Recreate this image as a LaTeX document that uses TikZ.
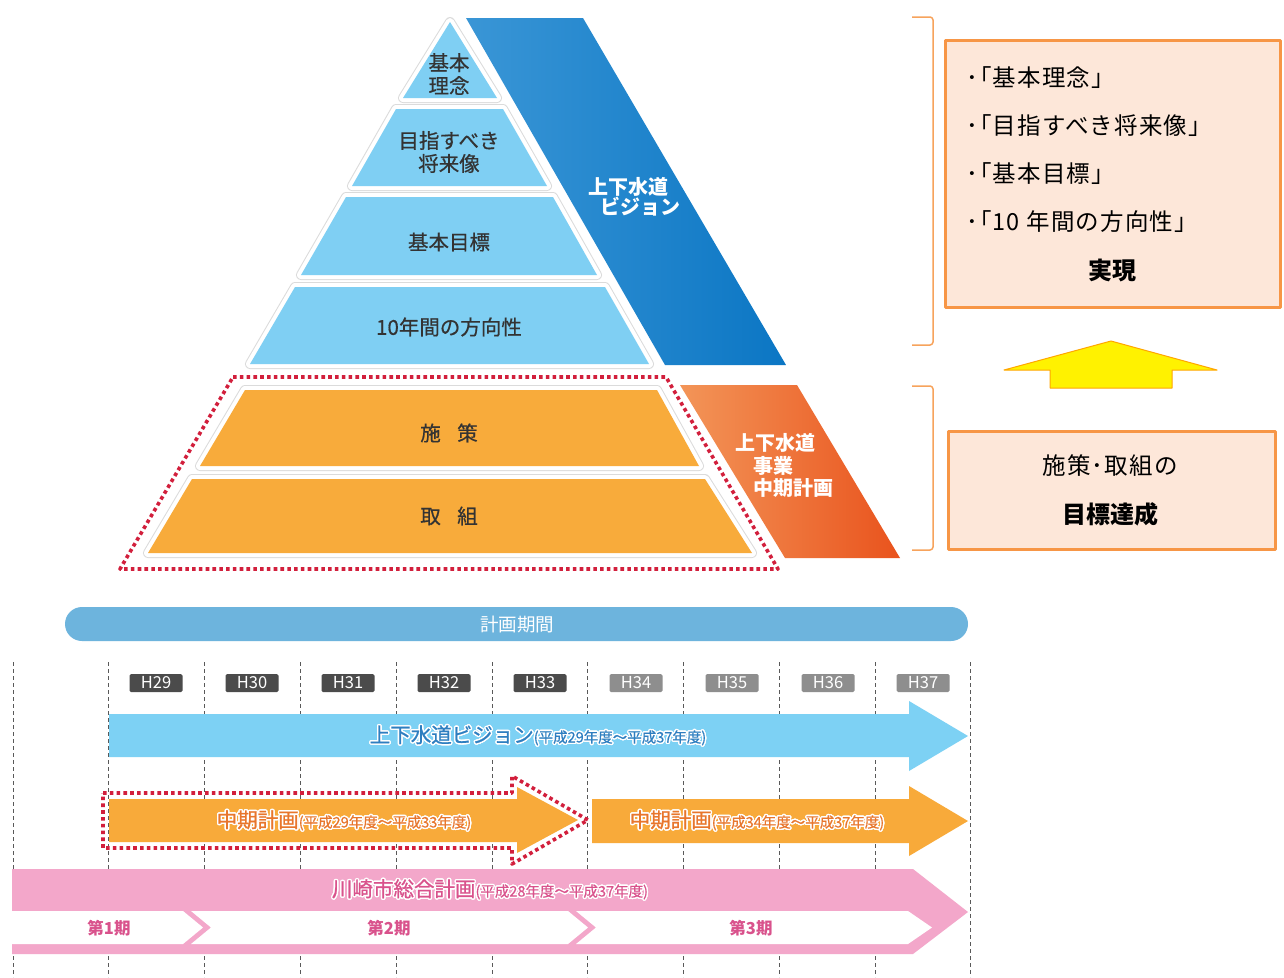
\documentclass[tikz,border=0pt]{standalone}
\usepackage{fontspec}
\setmainfont{Noto Sans CJK JP}
\usepackage[copies]{contour}
\contourlength{1.4pt}
\definecolor{lb}{HTML}{7FCFF3}
\definecolor{bandA}{HTML}{3A96D6}
\definecolor{bandB}{HTML}{0B76C4}
\definecolor{og}{HTML}{F8AB3B}
\definecolor{obA}{HTML}{F39558}
\definecolor{obB}{HTML}{E9531D}
\definecolor{dotred}{HTML}{D21F3C}
\definecolor{peach}{HTML}{FDE7D9}
\definecolor{peachb}{HTML}{F79646}
\definecolor{brk}{HTML}{F7A35C}
\definecolor{pill}{HTML}{6DB4DD}
\definecolor{yrd}{HTML}{4B4B4B}
\definecolor{yrl}{HTML}{8E8E8E}
\definecolor{vis}{HTML}{7DD1F4}
\definecolor{visT}{HTML}{2E7EC0}
\definecolor{mid}{HTML}{F8AA3A}
\definecolor{midT}{HTML}{E8762C}
\definecolor{pk}{HTML}{F3A7CA}
\definecolor{pkT}{HTML}{D9528C}
\definecolor{txt}{HTML}{333333}
\newcommand\slab[2]{%
  \path[draw=gray!28,line width=10,line join=round] #1;
  \path[draw=white,line width=8,line join=round] #1;
  \path[fill=#2] #1;}
\newcommand\fs[1]{\fontsize{#1}{#1}\selectfont}
\tikzset{
  pyrtext/.style={text=txt,align=center,inner sep=0,font=\addfontfeature{FakeBold=0.6}\fontsize{20.5}{23}\selectfont},
  bandtext/.style={text=white,inner sep=0,font=\bfseries\fontsize{20}{20}\selectfont},
  yearbox/.style={fill=#1,text=white,rounded corners=1.5,minimum width=53,minimum height=18,inner sep=0,font=\fontsize{16.5}{16.5}\selectfont},
  vline/.style={draw=black!65,line width=0.8,dash pattern=on 4 off 3},
  boxtext/.style={anchor=west,inner sep=0,text=black,font=\addfontfeature{LetterSpace=5}\fontsize{23.5}{23.5}\selectfont},
  boldbox/.style={anchor=center,inner sep=0,text=black,font=\bfseries\fontsize{24}{24}\selectfont},
  peachbox/.style={draw=peachb,fill=peach,line width=2.5,anchor=north west,inner sep=0},
  bracket/.style={draw=brk,line width=1.5,rounded corners=3},
  dotline/.style={draw=dotred,line width=3.6,dash pattern=on 3.6 off 3.2},
  arrtext/.style={inner sep=0},
  period/.style={inner sep=0,text=pkT,font=\bfseries\fs{16.5}},
}
\newcommand\bigpart[1]{\contour{white}{\addfontfeature{FakeBold=1}\fs{20.5}#1}}
\newcommand\smallpart[1]{\contour{white}{\addfontfeature{FakeBold=0.6}\fs{14.5}#1}}
\newcommand\br{\hspace{-0.42em}}
\begin{document}
\begin{tikzpicture}[x=1pt,y=-1pt,line join=round]
\useasboundingbox (0,0) rectangle (1284,977);
\fill[white] (0,0) rectangle (1284,977);

% ---------- pyramid ----------
\shade[left color=bandA,right color=bandB] (466,18) -- (583,18) -- (786,365) -- (665,365) -- cycle;
\shade[left color=obA,right color=obB] (680,385) -- (797,385) -- (900,558) -- (785,558) -- cycle;

\slab{(450,22) -- (497,98) -- (403,98) -- cycle}{lb}
\slab{(396,109) -- (503,109) -- (547,186) -- (352,186) -- cycle}{lb}
\slab{(346,197) -- (553,197) -- (597,275) -- (301,275) -- cycle}{lb}
\slab{(295,287) -- (605,287) -- (649,364) -- (250,364) -- cycle}{lb}
\slab{(245,390) -- (657,390) -- (699,466) -- (200,466) -- cycle}{og}
\slab{(192,479) -- (705,479) -- (752,553) -- (148,553) -- cycle}{og}

\draw[dotline] (233,377) -- (666,377) -- (778,569) -- (120,569) -- cycle;

\node[pyrtext] (p1) at (449,74) {基本\\理念};
\node[pyrtext] (p2) at (449,152) {目指すべき\\将来像};
\node[pyrtext] (p3) at (449,242) {基本目標};
\node[pyrtext] (p4) at (449,327) {10年間の方向性};
\node[pyrtext] (p5) at (449,433) {施\hspace{0.8em}策};
\node[pyrtext] (p6) at (449,516) {取\hspace{0.8em}組};

\node[bandtext] (v1) at (628,187) {上下水道};
\node[bandtext] (v2) at (640,207) {ビジョン};
\node[bandtext] (c1) at (775,443) {上下水道};
\node[bandtext] (c2) at (773,466) {事業};
\node[bandtext] (c3) at (793,488) {中期計画};

% ---------- right side ----------
\draw[bracket] (912,17) -- (933,17) -- (933,345) -- (912,345);
\draw[bracket] (912,386) -- (933,386) -- (933,550) -- (912,550);

\node[peachbox,minimum width=335,minimum height=267] (box1) at (944,39) {};
\node[boxtext] (t1) at (966,78) {･\br「基本理念」};
\node[boxtext] (t2) at (966,126) {･\br「目指すべき将来像」};
\node[boxtext] (t3) at (966,174) {･\br「基本目標」};
\node[boxtext] (t4) at (966,222) {･\br「10 年間の方向性」};
\node[boldbox] (t5) at (1112,270) {実現};

\path[fill=yellow,draw=orange!70!yellow,line width=1] (1111,341) -- (1217,370) -- (1172,370) -- (1172,388) -- (1050,388) -- (1050,370) -- (1004,370) -- cycle;

\node[peachbox,minimum width=327,minimum height=118] (box2) at (947,430) {};
\node[boxtext,anchor=center] (t6) at (1110,466) {施策･取組の};
\node[boldbox] (t7) at (1110,514) {目標達成};

% ---------- timeline ----------
\fill[pill,rounded corners=17] (65,607) rectangle (968,641);
\node[text=white,inner sep=0,font=\fs{18.5}] (kk) at (517,625) {計画期間};

\foreach \x in {13,108.5,204.5,300,396,492,587.5,683.5,779.5,875.5,970.5}
  \draw[vline] (\x,662) -- (\x,977);

\foreach \x/\t in {156/H29,252/H30,348/H31,444/H32,540/H33}
  \node[yearbox=yrd] (y\t) at (\x,683) {\t};
\foreach \x/\t in {636/H34,732/H35,828/H36,923/H37}
  \node[yearbox=yrl] (y\t) at (\x,683) {\t};

% vision arrow
\fill[vis] (109,714) -- (909,714) -- (909,701) -- (968,736) -- (909,771) -- (909,757) -- (109,757) -- cycle;
\node[arrtext,text=visT] (va) at (538,736) {\bigpart{上下水道ビジョン}\smallpart{(平成29年度～平成37年度)}};

% mid plan 1
\fill[mid] (109,799) -- (517,799) -- (517,787) -- (578,820) -- (517,853) -- (517,842) -- (109,842) -- cycle;
\draw[dotline] (103,793) -- (512,793) -- (512,776) -- (588,820) -- (512,864) -- (512,848) -- (103,848) -- cycle;
\node[arrtext,text=midT] (m1) at (344,821) {\bigpart{中期計画}\smallpart{(平成29年度～平成33年度)}};

% mid plan 2
\fill[mid] (592,799) -- (909,799) -- (909,786) -- (968,821) -- (909,856) -- (909,843) -- (592,843) -- cycle;
\node[arrtext,text=midT] (m2) at (757,821) {\bigpart{中期計画}\smallpart{(平成34年度～平成37年度)}};

% city plan
\fill[pk] (12,869) -- (913,869) -- (968,912) -- (913,954) -- (12,954) -- cycle;
\fill[white] (12,911) -- (183,911) -- (203,927.5) -- (183,944) -- (12,944) -- cycle;
\fill[white] (191,911) -- (568,911) -- (588,927.5) -- (568,944) -- (191,944) -- (211,927.5) -- cycle;
\fill[white] (576,911) -- (908,911) -- (932,927.5) -- (908,944) -- (576,944) -- (596,927.5) -- cycle;
\node[arrtext,text=pkT] (kp) at (490,890) {\bigpart{川崎市総合計画}\smallpart{(平成28年度～平成37年度)}};
\node[period] (s1) at (109,928) {第1期};
\node[period] (s2) at (389,928) {第2期};
\node[period] (s3) at (751,928) {第3期};
\end{tikzpicture}
\end{document}
